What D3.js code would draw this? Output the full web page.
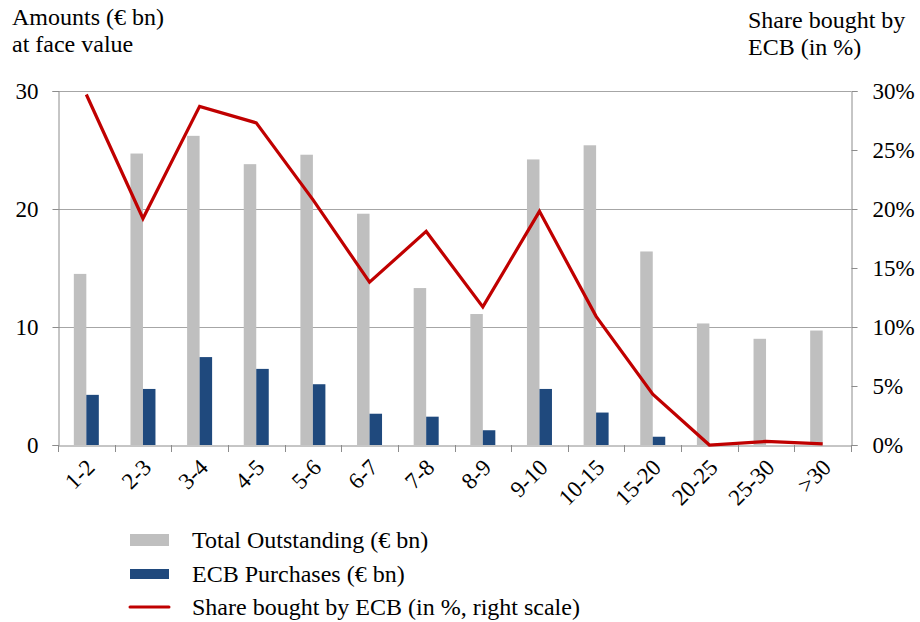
<!DOCTYPE html>
<html><head><meta charset="utf-8">
<script src="https://cdn.jsdelivr.net/npm/d3@7"></script>
<style>
body{margin:0;background:#fff;}
svg{display:block;}
svg text{font-family:"Liberation Serif","Times New Roman",Times,Tinos,"DejaVu Serif",serif !important;}
</style></head>
<body>
<svg id="chart" width="920" height="622"></svg>
<script>
const categories = ["1-2","2-3","3-4","4-5","5-6","6-7","7-8","8-9","9-10","10-15","15-20","20-25","25-30",">30"];
const totalOutstanding = [14.5,24.7,26.2,23.8,24.6,19.6,13.3,11.1,24.2,25.4,16.4,10.3,9.0,9.7];
const ecbPurchases = [4.25,4.75,7.45,6.45,5.15,2.65,2.4,1.25,4.75,2.75,0.7,0,0,0];
const shareBought = [29.7,19.2,28.7,27.3,20.8,13.8,18.1,11.7,19.8,10.9,4.3,0.0,0.3,0.1];
const leftTicks = [0,10,20,30];
const rightTicks = [0,5,10,15,20,25,30];
const legendItems = ["Total Outstanding (\u20ac bn)","ECB Purchases (\u20ac bn)","Share bought by ECB (in %, right scale)"];

const svg = d3.select("#chart");
const m = {left:58, right:851, top:91, bottom:445};
const x = d3.scaleBand().domain(categories).range([m.left, m.right]).paddingInner(0).paddingOuter(0);
const yL = d3.scaleLinear().domain([0,30]).range([m.bottom, m.top]);
const yR = d3.scaleLinear().domain([0,30]).range([m.bottom, m.top]);
const axisColor = "#8c8c8c";
const fs = 24, fsTick = 23;

// gridlines
svg.append("g").selectAll("line").data(leftTicks.filter(d=>d>0)).join("line")
  .attr("x1", m.left).attr("x2", m.right)
  .attr("y1", d=>Math.round(yL(d))+0.5).attr("y2", d=>Math.round(yL(d))+0.5)
  .attr("stroke", "#a6a6a6").attr("stroke-width",1);

// bars
const bw = 12.5;
svg.append("g").selectAll("rect").data(totalOutstanding).join("rect")
  .attr("x",(d,i)=>x(categories[i])+x.bandwidth()/2-bw)
  .attr("y",d=>yL(d)).attr("width",bw).attr("height",d=>yL(0)-yL(d))
  .attr("fill","#bfbfbf");
svg.append("g").selectAll("rect").data(ecbPurchases).join("rect")
  .attr("x",(d,i)=>x(categories[i])+x.bandwidth()/2)
  .attr("y",d=>yL(d)).attr("width",bw).attr("height",d=>yL(0)-yL(d))
  .attr("fill","#1f497d");

// left axis
const gL = svg.append("g").attr("transform",`translate(${m.left+0.5},0)`)
  .call(d3.axisLeft(yL).tickValues(leftTicks).tickSize(6).tickPadding(14).tickFormat(d3.format("d")));
gL.select(".domain").attr("stroke",axisColor);
gL.selectAll(".tick line").attr("stroke",axisColor);
gL.selectAll("text").attr("font-size",fsTick).attr("fill","#000");

// right axis
const gR = svg.append("g").attr("transform",`translate(${m.right+0.5},0)`)
  .call(d3.axisRight(yR).tickValues(rightTicks).tickSize(6).tickPadding(15).tickFormat(d=>d+"%"));
gR.select(".domain").attr("stroke",axisColor);
gR.selectAll(".tick line").attr("stroke",axisColor);
gR.selectAll("text").attr("font-size",fsTick).attr("fill","#000");

// bottom axis
const gB = svg.append("g").attr("transform",`translate(0,${m.bottom+0.5})`)
  .call(d3.axisBottom(x).tickSize(0).tickFormat(""));
gB.select(".domain").attr("stroke",axisColor);
gB.selectAll(".tick line").remove();
const bounds = categories.map(c=>x(c)).concat([m.right]);
svg.append("g").selectAll("line").data(bounds).join("line")
  .attr("x1",d=>Math.round(d)+0.5).attr("x2",d=>Math.round(d)+0.5)
  .attr("y1",m.bottom).attr("y2",m.bottom+7).attr("stroke",axisColor);
svg.append("g").selectAll("text").data(categories).join("text")
  .attr("transform",d=>`translate(${x(d)+x.bandwidth()/2+6},${m.bottom+20}) rotate(-45)`)
  .attr("text-anchor","end").attr("dominant-baseline","middle")
  .attr("font-size",fsTick).text(d=>d);

// line
const line = d3.line().x((d,i)=>x(categories[i])+x.bandwidth()/2).y(d=>yR(d));
svg.append("path").datum(shareBought).attr("d",line)
  .attr("fill","none").attr("stroke","#c00000").attr("stroke-width",3.2).attr("stroke-linejoin","miter");

// titles
const tl = svg.append("text").attr("font-size",fs);
tl.append("tspan").attr("x",12).attr("y",25).text("Amounts (\u20ac bn)");
tl.append("tspan").attr("x",12).attr("y",52).text("at face value");
const tr = svg.append("text").attr("font-size",fs);
tr.append("tspan").attr("x",748).attr("y",28).text("Share bought by");
tr.append("tspan").attr("x",748).attr("y",55).text("ECB (in %)");

// legend
const lg = svg.append("g");
const ly = [540,574,607];
lg.append("rect").attr("x",130).attr("y",ly[0]-6).attr("width",39).attr("height",12).attr("fill","#bfbfbf");
lg.append("rect").attr("x",130).attr("y",ly[1]-5).attr("width",39).attr("height",10).attr("fill","#1f497d");
lg.append("line").attr("x1",130).attr("x2",169).attr("y1",ly[2]).attr("y2",ly[2]).attr("stroke","#c00000").attr("stroke-width",3).attr("stroke-linecap","round");
lg.selectAll("text").data(legendItems).join("text")
  .attr("x",192).attr("y",(d,i)=>ly[i]).attr("dominant-baseline","central")
  .attr("font-size",fs).text(d=>d);
</script>
</body></html>
